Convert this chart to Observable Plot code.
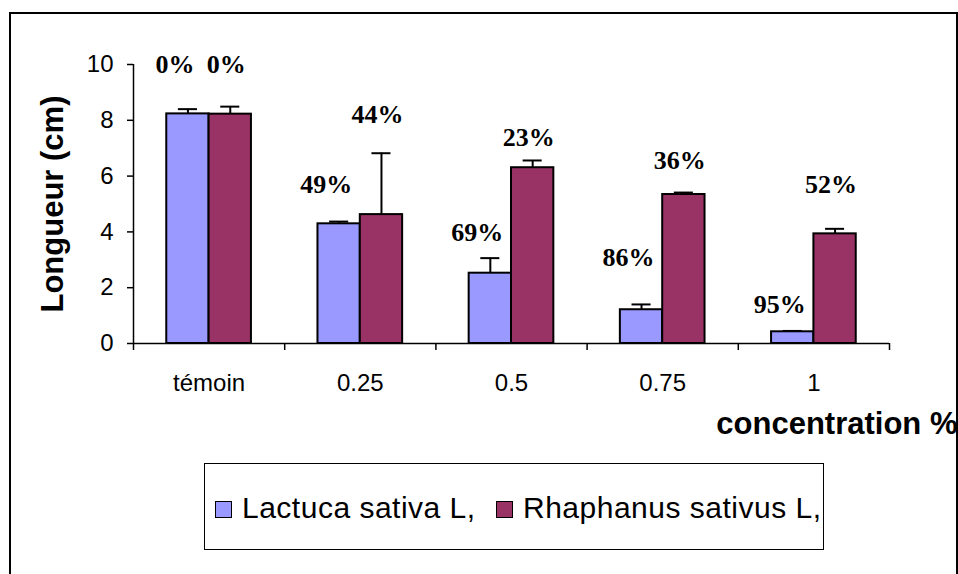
<!DOCTYPE html>
<html>
<head>
<meta charset="utf-8">
<script src="https://cdn.jsdelivr.net/npm/d3@7"></script>
<script src="https://cdn.jsdelivr.net/npm/@observablehq/plot@0.6"></script>
<style>
  html, body { margin: 0; padding: 0; background: #fff; }
  #wrap { position: relative; width: 958px; height: 574px; overflow: hidden; background: #fff; }
  #frame { position: absolute; left: 9px; top: 12px; width: 949px; height: 700px; box-sizing: border-box; border: 2px solid #000; }
  #chart { position: absolute; left: 0; top: 0; }
  #legend { position: absolute; left: 204px; top: 463px; width: 620px; height: 87px; box-sizing: border-box;
            border: 1.5px solid #000; font-family: "Liberation Sans", Arial, sans-serif; font-size: 30px; letter-spacing: 0.5px; }
  .item { position: absolute; top: 0; height: 87px; display: flex; align-items: center; }
  .sw { width: 15px; height: 15px; border: 1.5px solid #000; margin-right: 10px; margin-top: 4px; }
</style>
</head>
<body>
<div id="wrap">
  <div id="frame"></div>
  <div id="chart"></div>
  <div id="legend"></div>
</div>
<script>
// ---- data ----
const categories = ["témoin", "0.25", "0.5", "0.75", "1"];
const seriesNames = ["Lactuca sativa L,", "Rhaphanus sativus L,"];
const seriesColors = ["#9999FF", "#993366"];
const lactucaValues = [8.23, 4.29, 2.52, 1.21, 0.42];
const lactucaErr = [0.17, 0.08, 0.54, 0.19, 0.03];
const rhaphanusValues = [8.22, 4.62, 6.30, 5.34, 3.93];
const rhaphanusErr = [0.27, 2.20, 0.26, 0.07, 0.18];
const lactucaLabels = ["0%", "49%", "69%", "86%", "95%"];
const rhaphanusLabels = ["0%", "44%", "23%", "36%", "52%"];
const lactucaLabelY = [9.68, 5.38, 3.67, 2.77, 1.08];
const rhaphanusLabelY = [9.68, 7.90, 7.07, 6.24, 5.38];
const yTicks = [0, 2, 4, 6, 8, 10];
const xTitle = "concentration %";
const yTitle = "Longueur (cm)";

// ---- build table ----
const barW = 0.28;      // bar width in category units
const capW = 0.063;
const rows = [];
categories.forEach((c, i) => {
  rows.push({cat: c, i, s: 0, v: lactucaValues[i], e: lactucaErr[i], lab: lactucaLabels[i], ly: lactucaLabelY[i]});
  rows.push({cat: c, i, s: 1, v: rhaphanusValues[i], e: rhaphanusErr[i], lab: rhaphanusLabels[i], ly: rhaphanusLabelY[i]});
});
rows.forEach(d => {
  d.x1 = d.i + 0.5 - (d.s === 0 ? barW : 0);
  d.x2 = d.x1 + barW;
  d.xc = (d.x1 + d.x2) / 2;
});
const L = rows.filter(d => d.s === 0), R = rows.filter(d => d.s === 1);
const sans = "'Liberation Sans', Arial, sans-serif";
const serif = "'Liberation Serif', 'Times New Roman', serif";

const plot = Plot.plot({
  width: 958,
  height: 460,
  marginLeft: 133,
  marginRight: 69,
  marginTop: 64,
  marginBottom: 117,
  style: {fontFamily: sans, background: "transparent", overflow: "visible"},
  x: {type: "linear", domain: [0, categories.length]},
  y: {domain: [0, 10]},
  marks: [
    Plot.rectY(rows, {x1: "x1", x2: "x2", y1: 0, y2: "v", fill: d => seriesColors[d.s], stroke: "#000", strokeWidth: 2}),
    Plot.ruleX(rows, {x: "xc", y1: "v", y2: d => d.v + d.e, stroke: "#000", strokeWidth: 2}),
    Plot.ruleY(rows, {y: d => d.v + d.e, x1: d => d.xc - capW, x2: d => d.xc + capW, stroke: "#000", strokeWidth: 2}),
    Plot.ruleX([0], {stroke: "#000", strokeWidth: 1.5}),
    Plot.ruleY([0], {stroke: "#000", strokeWidth: 1.5}),
    Plot.axisY({ticks: yTicks, tickSize: 6, tickPadding: 14, fontSize: 24, label: null, stroke: "#000", strokeWidth: 1.5}),
    Plot.axisX({ticks: d3.range(categories.length + 1), tickSize: 7, tickFormat: () => "", label: null, strokeWidth: 1.5}),
    Plot.axisX({ticks: categories.map((c, i) => i + 0.5), tickSize: 0, tickPadding: 30, fontSize: 24,
                tickFormat: d => categories[Math.floor(d)], label: null}),
    Plot.text(L, {x: "xc", y: "ly", text: "lab", dx: -13, lineAnchor: "bottom", fontFamily: serif, fontWeight: "bold", fontSize: 26, fill: "#000"}),
    Plot.text(R, {x: "xc", y: "ly", text: "lab", dx: -4, lineAnchor: "bottom", fontFamily: serif, fontWeight: "bold", fontSize: 26, fill: "#000"}),
    Plot.text([yTitle], {text: d => d, frameAnchor: "left", rotate: -90, dx: -71, textAnchor: "middle", lineAnchor: "bottom", fontSize: 31, fontWeight: "bold", fill: "#000"}),
    Plot.text([xTitle], {text: d => d, frameAnchor: "bottom-right", dx: 68, dy: 90, textAnchor: "end", lineAnchor: "bottom", fontSize: 31, fontWeight: "bold", fill: "#000"})
  ]
});
document.getElementById("chart").appendChild(plot);

// legend
const legend = document.getElementById("legend");
const lefts = [10, 291];
seriesNames.forEach((name, k) => {
  const it = document.createElement("div");
  it.className = "item";
  it.style.left = lefts[k] + "px";
  const sw = document.createElement("div");
  sw.className = "sw";
  sw.style.background = seriesColors[k];
  const tx = document.createElement("span");
  tx.textContent = name;
  it.appendChild(sw); it.appendChild(tx);
  legend.appendChild(it);
});
</script>
</body>
</html>
